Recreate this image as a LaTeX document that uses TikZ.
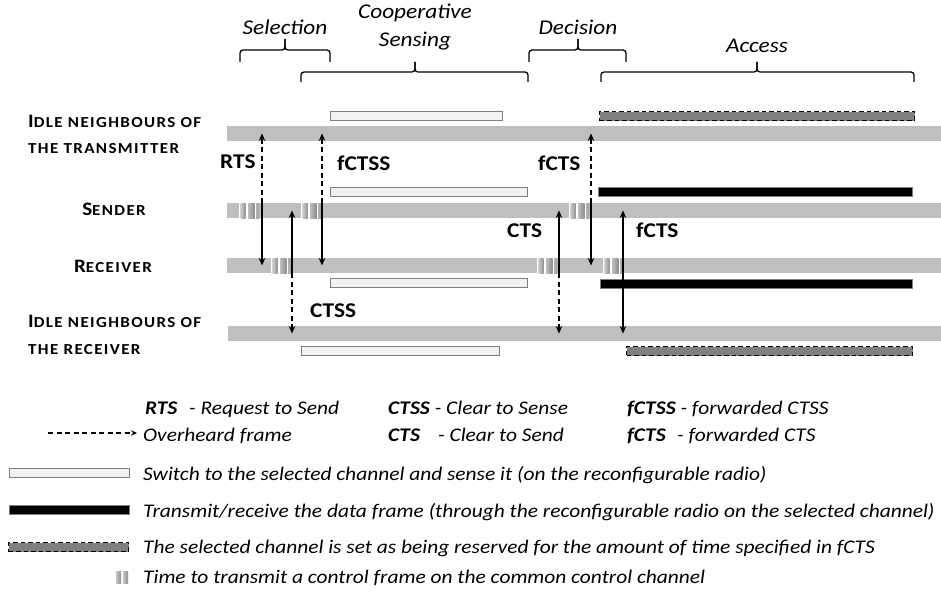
\documentclass[tikz,border=0pt]{standalone}
\usepackage{fontspec}
\setmainfont{Carlito}[FakeStretch=1.11]
\newfontfamily\labfont{Carlito}[LetterSpace=9,FakeStretch=1.11]
\usetikzlibrary{arrows.meta}

\definecolor{lanegray}{HTML}{BFBFBF}
\definecolor{sensefill}{HTML}{F2F2F2}
\definecolor{boxedge}{HTML}{7F7F7F}
\definecolor{resfill}{HTML}{7F7F7F}

% larger capital inside the small-caps lane labels
\newcommand\capA[1]{{\fontsize{19}{19}\selectfont #1}}

\tikzset{
  lane/.style={fill=lanegray, draw=none, minimum height=15pt, inner sep=0pt,
               outer sep=0pt, anchor=north west},
  sensebox/.style={fill=sensefill, draw=boxedge, line width=1.4pt, minimum height=9pt,
                   inner sep=0pt, outer sep=0pt, anchor=north west},
  databox/.style={fill=black, draw=boxedge, line width=1.4pt, minimum height=9pt,
                  inner sep=0pt, outer sep=0pt, anchor=north west},
  resbox/.style={fill=resfill, draw=black, line width=1.3pt, dash pattern=on 4.5pt off 3pt,
                 minimum height=9pt, inner sep=0pt, outer sep=0pt, anchor=north west},
  frame/.style={line width=1.4pt, -{Stealth[length=7.5pt,width=6.5pt,inset=2.5pt]}},
  heard/.style={frame, dash pattern=on 5pt off 3.5pt},
  brace/.style={line width=1.3pt, rounded corners=3pt},
  phase/.style={font=\itshape\fontsize{21}{21}\selectfont, anchor=base, inner sep=0pt},
  framelab/.style={font=\bfseries\fontsize{21}{21}\selectfont, anchor=base west, inner sep=0pt},
  lanelab/.style={font=\labfont\bfseries\fontsize{15.3}{15.3}\selectfont, inner sep=0pt},
  legtext/.style={font=\itshape\fontsize{19.3}{19.3}\selectfont, anchor=base west, inner sep=0pt},
  ctrl/.pic={
    \fill[white] (0,0) rectangle (20,15);
    \shade[left color=gray!40, right color=gray!85] (1.5,0) rectangle (6.5,15);
    \shade[left color=gray!50, right color=gray!90] (9,0) rectangle (15.5,15);
    \shade[left color=gray!60, right color=gray!75] (17,0) rectangle (20,15);
  }
}

\begin{document}
\begin{tikzpicture}[x=1pt, y=-1pt]
\useasboundingbox (0,0) rectangle (941,591);

% ---- channel lanes ----
\node[lane, minimum width=714pt] (L1) at (227,126) {};
\node[lane, minimum width=714pt] (L2) at (227,203) {};
\node[lane, minimum width=714pt] (L3) at (227,258) {};
\node[lane, minimum width=713pt] (L4) at (228,326) {};

% ---- control frames on the common control channel ----
\pic at (239,203) {ctrl};
\pic at (301,203) {ctrl};
\pic at (569,203) {ctrl};
\pic at (271,258) {ctrl};
\pic at (537,258) {ctrl};
\pic at (603,258) {ctrl};

% ---- sensing on the selected channel ----
\node[sensebox, minimum width=172pt] (s1) at (330.7,111.7) {};
\node[sensebox, minimum width=197pt] (s2) at (330.7,187.7) {};
\node[sensebox, minimum width=197pt] (s3) at (330.7,278.7) {};
\node[sensebox, minimum width=198pt] (s4) at (301.7,346.7) {};

% ---- data transfer ----
\node[databox, minimum width=314pt] (d2) at (598.7,187.7) {};
\node[databox, minimum width=312pt] (d3) at (600.7,279.2) {};

% ---- reservation ----
\node[resbox, minimum width=315pt] (r1) at (599.7,111.7) {};
\node[resbox, minimum width=286pt] (r4) at (626.7,346.7) {};

% ---- phase braces ----
\draw[brace] (240,62) |- (285,50) -- (285,39);
\draw[brace] (330,62) |- (285,50) -- (285,39);
\draw[brace] (301,82) |- (415,72) -- (415,62);
\draw[brace] (528,82) |- (415,72) -- (415,62);
\draw[brace] (529,62) |- (578,50) -- (578,39);
\draw[brace] (626,62) |- (578,50) -- (578,39);
\draw[brace] (601,82) |- (757,72) -- (757,62);
\draw[brace] (914,82) |- (757,72) -- (757,62);

\node[phase] (pSel) at (285,35) {Selection};
\node[phase] (pCoop1) at (415,19) {Cooperative};
\node[phase] (pCoop2) at (415,47) {Sensing};
\node[phase] (pDec) at (578,35) {Decision};
\node[phase] (pAcc) at (757,53) {Access};

% ---- lane labels ----
\node[lanelab, anchor=base west] (n1a) at (28,127) {\capA{I}DLE NEIGHBOURS OF};
\node[lanelab, anchor=base west] (n1b) at (28,153) {THE TRANSMITTER};
\node[lanelab, anchor=base] (n2) at (114,215) {\capA{S}ENDER};
\node[lanelab, anchor=base] (n3) at (113,272) {\capA{R}ECEIVER};
\node[lanelab, anchor=base west] (n4a) at (28,327) {\capA{I}DLE NEIGHBOURS OF};
\node[lanelab, anchor=base west] (n4b) at (28,354) {THE RECEIVER};

% ---- frame exchanges ----
\coordinate (xRTS) at (262,0);
\coordinate (xCTSS) at (292,0);
\coordinate (xfCTSS) at (322,0);
\coordinate (xCTS) at (559,0);
\coordinate (xfCTSa) at (591,0);
\coordinate (xfCTSb) at (623,0);

\draw[heard] (xRTS |- L2.north) -- (xRTS |- L1.center);
\draw[frame] (xRTS |- L2.north) -- (xRTS |- L3.center);

\draw[frame] (xCTSS |- L3.south) -- (xCTSS |- L2.center);
\draw[heard] (xCTSS |- L3.south) -- (xCTSS |- L4.center);

\draw[heard] (xfCTSS |- L2.north) -- (xfCTSS |- L1.center);
\draw[frame] (xfCTSS |- L2.north) -- (xfCTSS |- L3.center);

\draw[frame] (xCTS |- L3.south) -- (xCTS |- L2.center);
\draw[heard] (xCTS |- L3.south) -- (xCTS |- L4.center);

\draw[heard] (xfCTSa |- L2.north) -- (xfCTSa |- L1.center);
\draw[frame] (xfCTSa |- L2.north) -- (xfCTSa |- L3.center);

\draw[frame] (xfCTSb |- L3.south) -- (xfCTSb |- L2.center);
\draw[frame] (xfCTSb |- L3.south) -- (xfCTSb |- L4.center);

\node[framelab] (tRTS) at (220,168) {RTS};
\node[framelab] (tfCTSS) at (337,170) {fCTSS};
\node[framelab] (tCTSS) at (310,317) {CTSS};
\node[framelab] (tfCTSa) at (538,170) {fCTS};
\node[framelab] (tCTS) at (507,237) {CTS};
\node[framelab] (tfCTSb) at (636,237) {fCTS};

% ---- legend ----
\node[legtext] (k1) at (145,414) {\textbf{RTS}};
\node[legtext] (k1b) at (189,414) {- Request to Send};
\node[legtext] (k2) at (388,414) {\textbf{CTSS} - Clear to Sense};
\node[legtext] (k3) at (627,414) {\textbf{fCTSS} - forwarded CTSS};

\coordinate (hA) at (48,433);
\coordinate (hB) at (137,433);
\draw[heard, line width=1.3pt, -{Stealth[length=6pt,width=5.5pt,inset=2pt]}] (hA) -- (hB);
\node[legtext] (k4) at (143,441) {Overheard frame};
\node[legtext] (k5) at (388,441) {\textbf{CTS}};
\node[legtext] (k5b) at (438,441) {- Clear to Send};
\node[legtext] (k6) at (627,441) {\textbf{fCTS}};
\node[legtext] (k6b) at (677,441) {- forwarded CTS};

\node[sensebox, minimum width=120pt] (ks) at (9.7,468.7) {};
\node[legtext] (k7) at (143,480) {Switch to the selected channel and sense it (on the reconfigurable radio)};
\node[databox, minimum width=120pt] (kd) at (9.7,505.7) {};
\node[legtext] (k8) at (143,517) {Transmit/receive the data frame (through the reconfigurable radio on the selected channel)};
\node[resbox, minimum width=120pt] (kr) at (8.7,542.7) {};
\node[legtext] (k9) at (143,553) {The selected channel is set as being reserved for the amount of time specified in fCTS};
\shade[left color=gray!45, right color=gray!85] (116,571) rectangle (121,583);
\shade[left color=gray!45, right color=gray!85] (123,571) rectangle (128,583);
\node[legtext] (k10) at (143,583) {Time to transmit a control frame on the common control channel};
\end{tikzpicture}
\end{document}
